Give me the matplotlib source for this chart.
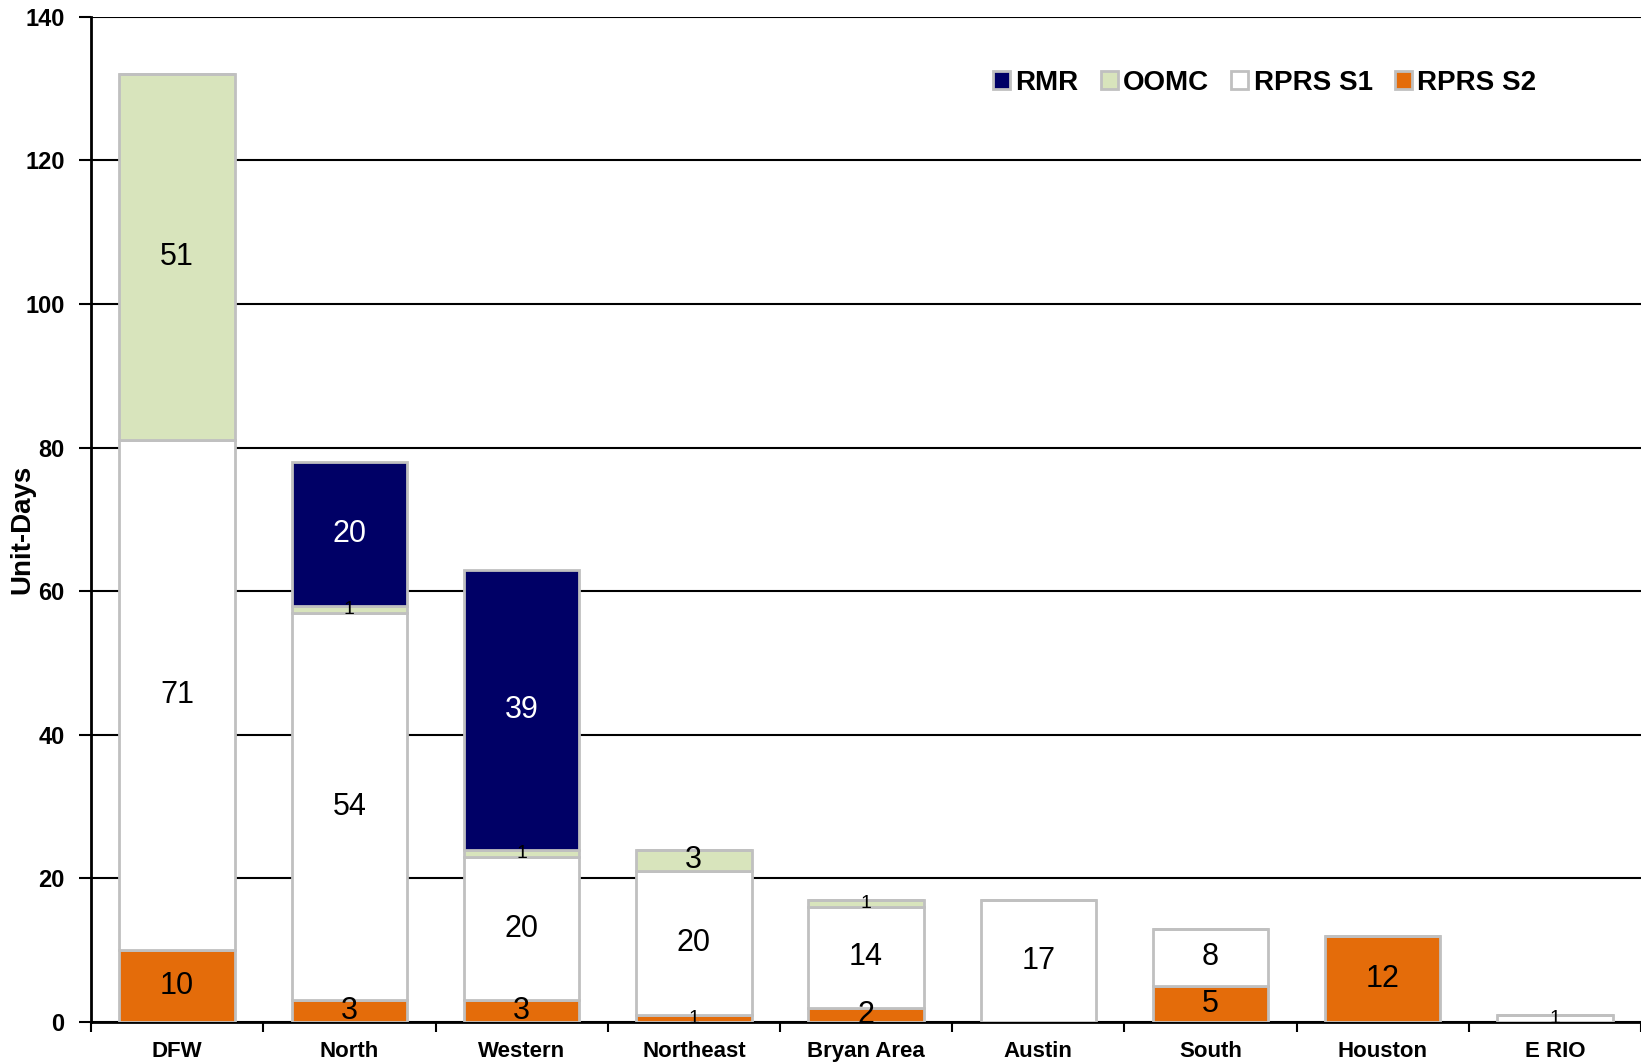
import matplotlib.pyplot as plt
import numpy as np

plt.rcParams["font.family"] = ["Liberation Sans", "DejaVu Sans"]

regions = ["DFW", "North", "Western", "Northeast", "Bryan Area",
           "Austin", "South", "Houston", "E RIO"]
rprs_s2 = [10, 3, 3, 1, 2, 0, 5, 12, 0]
rprs_s1 = [71, 54, 20, 20, 14, 17, 8, 0, 1]
oomc = [51, 1, 1, 3, 1, 0, 0, 0, 0]
rmr = [0, 20, 39, 0, 0, 0, 0, 0, 0]

series = [
    ("RPRS S2", rprs_s2, "#e46c0a", "black"),
    ("RPRS S1", rprs_s1, "white", "black"),
    ("OOMC", oomc, "#d8e4bc", "black"),
    ("RMR", rmr, "#000066", "white"),
]

fig = plt.figure(figsize=(16.41, 10.63), dpi=100)
ax = fig.add_axes([0.0555, 0.0386, 0.9445, 0.9456])

x = np.arange(len(regions))
bottom = np.zeros(len(regions))
handles = {}
for name, vals, color, tcolor in series:
    vals = np.array(vals, dtype=float)
    bars = ax.bar(x, vals, width=0.67, bottom=bottom, color=color,
                  edgecolor="#c0c0c0", linewidth=2, zorder=3, label=name)
    handles[name] = bars
    for xi, b, v in zip(x, bottom, vals):
        if v <= 0:
            continue
        fs = 14 if v < 2 else 22
        ax.text(xi, b + v / 2, f"{int(v)}", ha="center", va="center",
                fontsize=fs, color=tcolor, zorder=4,
                family=["Liberation Sans Narrow", "Liberation Sans"])
    bottom += vals

ax.set_xlim(-0.5, len(regions) - 0.5)
ax.set_ylim(0, 140)
ax.set_yticks(range(0, 141, 20))
ax.yaxis.grid(True, color="black", linewidth=1.5, zorder=0)
ax.set_axisbelow(True)

ax.set_xticks(x)
ax.set_xticklabels(regions, fontsize=16, fontweight="bold")
ax.set_xticks(np.arange(-0.5, len(regions)), minor=True)
ax.tick_params(axis="x", which="major", length=0, pad=14)
ax.tick_params(axis="x", which="minor", length=7, width=1.5, direction="out")
ax.tick_params(axis="y", length=9, width=1.5, labelsize=17, pad=10)
for lab in ax.get_yticklabels():
    lab.set_fontweight("bold")

ax.set_ylabel("Unit-Days", fontsize=20, fontweight="bold")
ax.yaxis.set_label_coords(-0.036, 0.49)

for s in ["top", "right"]:
    ax.spines[s].set_visible(False)
ax.spines["left"].set_linewidth(2)
ax.spines["bottom"].set_linewidth(2)

order = ["RMR", "OOMC", "RPRS S1", "RPRS S2"]
leg = ax.legend([handles[n] for n in order], order, loc="upper left",
                bbox_to_anchor=(0.566, 0.972), ncol=4, frameon=False,
                prop={"size": 20, "weight": "bold"}, handlelength=0.6,
                handleheight=0.6, handletextpad=0.2, columnspacing=0.8)

fig.savefig("out.png", dpi=100)
